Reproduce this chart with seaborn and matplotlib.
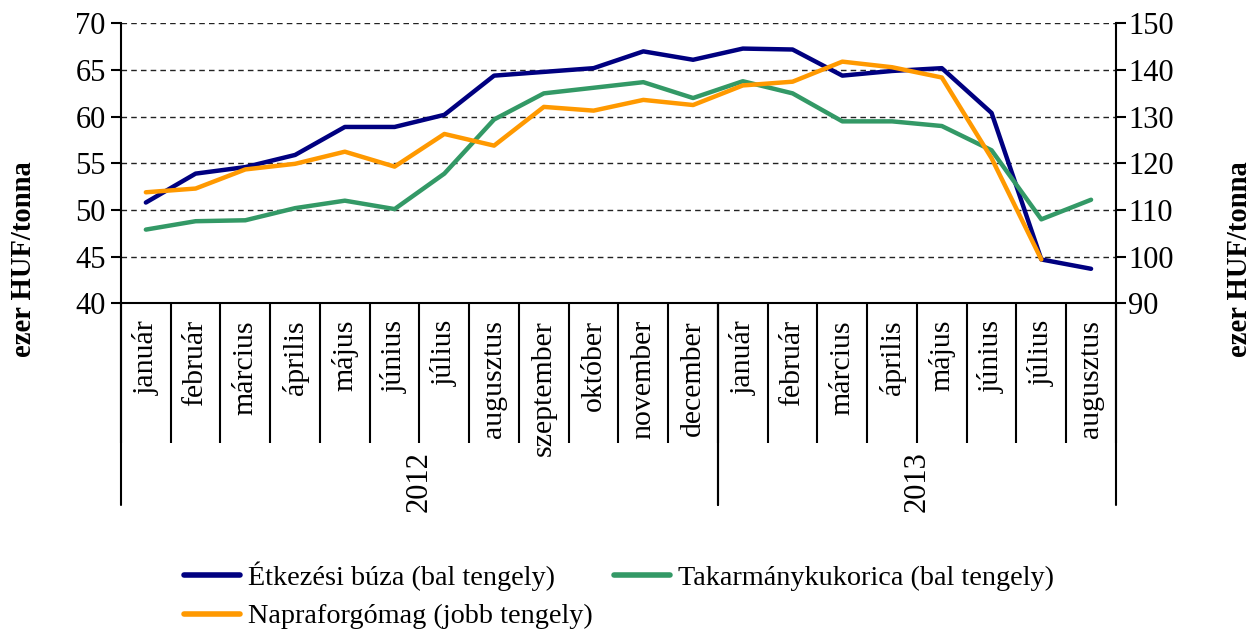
import numpy as np
import pandas as pd
import matplotlib
matplotlib.use("Agg")
import matplotlib.pyplot as plt
import seaborn as sns

# Data
months = ["január", "február", "március", "április", "május", "június", "július",
          "augusztus", "szeptember", "október", "november", "december",
          "január", "február", "március", "április", "május", "június", "július",
          "augusztus"]
years = ["2012", "2013"]
year_spans = [(0, 11), (12, 19)]

buza = [50.8, 53.9, 54.6, 55.9, 58.9, 58.9, 60.2, 64.4, 64.8, 65.2, 67.0, 66.1,
        67.3, 67.2, 64.4, 64.9, 65.2, 60.4, 44.7, 43.7]
kukorica = [47.9, 48.8, 48.9, 50.2, 51.0, 50.1, 53.9, 59.7, 62.5, 63.1, 63.7, 62.0,
            63.8, 62.5, 59.5, 59.5, 59.0, 56.4, 49.0, 51.1]
napraforgo = [113.8, 114.6, 118.7, 119.9, 122.5, 119.3, 126.3, 123.8, 132.1, 131.3,
              133.6, 132.5, 136.7, 137.5, 141.8, 140.6, 138.4, 121.1, 99.4]

labels = ["Étkezési búza (bal tengely)", "Takarmánykukorica (bal tengely)",
          "Napraforgómag (jobb tengely)"]
colors = ["#000080", "#339966", "#FF9900"]

sns.set_style("white")
plt.rcParams["font.family"] = ["Liberation Serif", "DejaVu Serif"]
plt.rcParams["text.color"] = "black"
plt.rcParams["xtick.color"] = "black"
plt.rcParams["ytick.color"] = "black"

left_df = pd.DataFrame({"x": np.arange(len(months)), "buza": buza, "kukorica": kukorica})
right_df = pd.DataFrame({"x": np.arange(len(napraforgo)), "napraforgo": napraforgo})

fig = plt.figure(figsize=(12.55, 6.44), dpi=100)
ax = fig.add_axes([0.0964, 0.529, 0.7928, 0.4347])
ax2 = ax.twinx()

sns.lineplot(data=left_df, x="x", y="buza", ax=ax, color=colors[0], lw=3.2,
             label=labels[0], legend=False)
sns.lineplot(data=left_df, x="x", y="kukorica", ax=ax, color=colors[1], lw=3.2,
             label=labels[1], legend=False)
sns.lineplot(data=right_df, x="x", y="napraforgo", ax=ax2, color=colors[2], lw=3.2,
             label=labels[2], legend=False)

# axes limits / ticks
ax.set_xlim(-0.5, len(months) - 0.5)
ax.set_ylim(40, 70)
ax2.set_ylim(90, 150)
ax.set_yticks(np.arange(40, 71, 5))
ax2.set_yticks(np.arange(90, 151, 10))
ax.set_xlabel("")
ax.set_ylabel("")
ax2.set_ylabel("")

ax.set_xticks(np.arange(len(months)))
ax.set_xticklabels(months, rotation=90, fontsize=21.5)
ax.set_xticks(np.arange(-0.5, len(months)), minor=True)
ax.tick_params(axis="x", which="major", bottom=True, length=0, pad=12)
ax.tick_params(axis="x", which="minor", bottom=True, length=101, width=1.5,
               color="black", direction="out")
ax.tick_params(axis="y", length=7, width=1.5, color="black", direction="out",
               labelsize=22, pad=4, left=True)
ax2.tick_params(axis="y", length=7, width=1.5, color="black", direction="out",
                labelsize=22, pad=2, right=True)

# gridlines
ax.yaxis.grid(True, linestyle=(0, (4, 3)), color="#222222", lw=1.0)
ax.xaxis.grid(False)

for a in (ax, ax2):
    a.spines["top"].set_visible(False)
    for s in ("left", "bottom", "right"):
        a.spines[s].set_color("black")
        a.spines[s].set_linewidth(1.5)
ax.spines["right"].set_visible(False)
ax2.spines["left"].set_visible(False)
ax2.spines["bottom"].set_visible(False)

# year grouping
trans = ax.get_xaxis_transform()
for start, end in year_spans:
    for xb in (start - 0.5, end + 0.5):
        ax.plot([xb, xb], [0, -0.72], transform=trans, color="black", lw=1.5,
                clip_on=False)
for yr, (start, end) in zip(years, year_spans):
    ax.text((start + end) / 2, -0.635, yr, transform=trans, rotation=90,
            ha="center", va="center", fontsize=22)

# axis titles
fig.text(0.019, 0.597, "ezer HUF/tonna", rotation=90, ha="center", va="center",
         fontsize=20.6, fontweight="bold")
fig.text(0.988, 0.597, "ezer HUF/tonna", rotation=90, ha="center", va="center",
         fontsize=20.6, fontweight="bold")

# legend
h1, l1 = ax.get_legend_handles_labels()
h2, l2 = ax2.get_legend_handles_labels()
handles = [h1[0], h2[0], h1[1]]
leg_labels = [l1[0], l2[0], l1[1]]
leg = fig.legend(handles, leg_labels, loc="upper left", bbox_to_anchor=(0.147, 0.128),
                 ncol=2, frameon=False, fontsize=20.3, handlelength=1.97,
                 handletextpad=0.3, columnspacing=0.75, labelspacing=0.45,
                 borderaxespad=0, borderpad=0)
for line in leg.get_lines():
    line.set_linewidth(4)

fig.savefig("out.png", dpi=100)
